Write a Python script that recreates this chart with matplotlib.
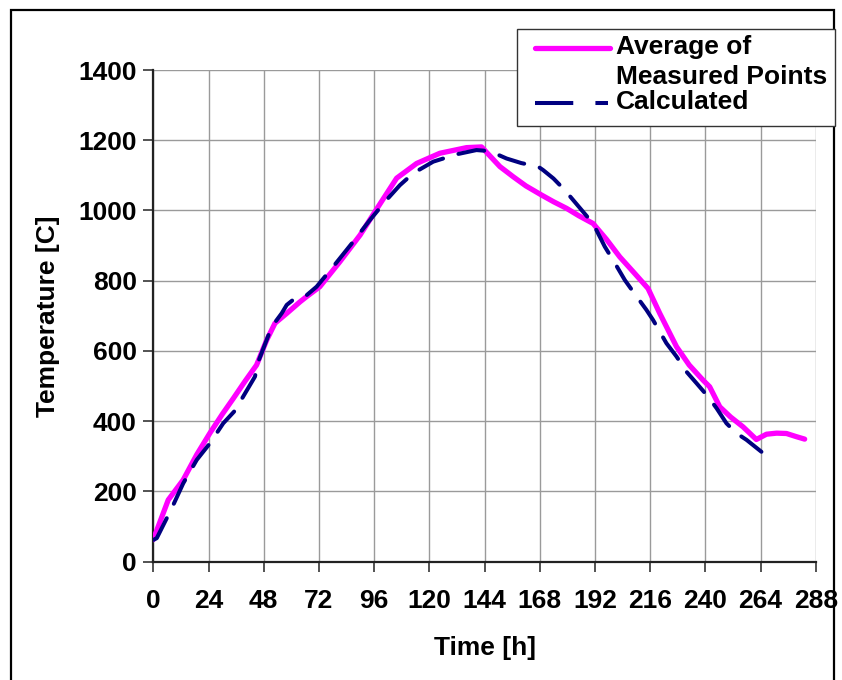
import matplotlib
matplotlib.use("Agg")
import matplotlib.pyplot as plt
from matplotlib.lines import Line2D
from matplotlib.patches import Rectangle

# Average of measured points
measured_t = [0, 6.5, 13, 18.9, 24.6, 30, 34.8, 40, 44.9, 49.3, 52.9, 58, 63.8, 66.7,
              72.4, 81.1, 89.9, 97.8, 105.8, 114.5, 124.6, 136.2, 142.7, 150.7, 156.5,
              162, 168.8, 174, 179.7, 185, 191.2, 197, 202.8, 209, 215.1, 220.2, 227.5,
              233, 239, 241.9, 246.3, 251, 256.4, 262.2, 266.6, 271, 275.3, 279.6, 283.2]
measured_T = [63, 176, 233, 305, 366, 420, 465, 515, 560, 631, 679, 707, 740, 755,
              783, 854, 930, 1011, 1092, 1134, 1163, 1179, 1181, 1125, 1096,
              1070, 1044, 1025, 1006, 985, 963, 918, 868, 823, 778, 707, 612,
              560, 517, 498, 441, 412, 384, 348, 363, 366, 365, 356, 349]

# Calculated temperature
calc_t = [0, 1.5, 8, 13, 18.9, 24.6, 30.4, 35.5, 37.7, 44.2, 45.6, 51.5, 55.8, 58,
          61.6, 66.7, 71, 78.2, 86.9, 94.2, 101.4, 107.2, 113, 121.7, 131.9, 140.5,
          146.3, 153.6, 160, 167.3, 169.5, 174, 178.9, 186.9, 191.2, 196.3, 200.7,
          205, 208.6, 214.4, 217.3, 223.1, 227.5, 231.8, 236.2, 241.2, 244.9, 249.2,
          253.5, 257.9, 264.4]
calc_T = [62, 67, 152, 223, 290, 337, 394, 430, 455, 527, 569, 669, 707, 731,
          750, 759, 783, 840, 911, 973, 1030, 1072, 1106, 1139, 1160, 1172,
          1169, 1148, 1135, 1125, 1115, 1091, 1058, 996, 963, 897, 850,
          802, 769, 717, 688, 622, 584, 541, 508, 470, 437, 394,
          366, 347, 313]

x_ticks = list(range(0, 289, 24))
y_ticks = list(range(0, 1401, 200))

legend_labels = ["Average of", "Measured Points", "Calculated"]

W, H = 842, 680
plt.rcParams["font.family"] = ["Liberation Sans", "DejaVu Sans"]
plt.rcParams["font.weight"] = "bold"

fig = plt.figure(figsize=(W / 100, H / 100), dpi=100)
fig.patch.set_facecolor("white")


def fx(px):
    return px / W


def fy(py):
    return 1 - py / H


ax = fig.add_axes([fx(153.3), fy(561.7), fx(815.7) - fx(153.3), fy(70) - fy(561.7)])

MAGENTA = "#FF00FF"
NAVY = "#000080"
FS = 19

ax.plot(measured_t, measured_T, color=MAGENTA, lw=3.8, solid_capstyle="round",
        solid_joinstyle="round", zorder=3)
ax.plot(calc_t, calc_T, color=NAVY, lw=2.9, linestyle=(0, (6.5, 4.0)),
        dash_capstyle="round", zorder=4)

ax.set_xlim(0, 288)
ax.set_ylim(0, 1400)
ax.set_xticks(x_ticks)
ax.set_yticks(y_ticks)
ax.grid(True, color="#9a9a9a", lw=1.0)
ax.set_axisbelow(True)

for s in ["top", "right"]:
    ax.spines[s].set_visible(False)
for s in ["left", "bottom"]:
    ax.spines[s].set_color("#222222")
    ax.spines[s].set_linewidth(1.6)

ax.tick_params(axis="both", direction="out", length=7, width=1.3, color="#444444",
               labelsize=FS)
ax.tick_params(axis="x", pad=13)
ax.tick_params(axis="y", pad=5)
for lab in ax.get_xticklabels() + ax.get_yticklabels():
    lab.set_fontweight("bold")

ax.set_xlabel("Time [h]", fontsize=FS, fontweight="bold", labelpad=16)
ax.set_ylabel("Temperature [C]", fontsize=FS, fontweight="bold", labelpad=13)

# outer frame
fig.add_artist(Rectangle((fx(11), fy(690)), fx(834) - fx(11), fy(10) - fy(690),
                         transform=fig.transFigure, fill=False, edgecolor="black",
                         lw=1.6, clip_on=False, zorder=10))

# legend box
fig.add_artist(Rectangle((fx(517), fy(126)), fx(835) - fx(517), fy(29) - fy(126),
                         transform=fig.transFigure, facecolor="white",
                         edgecolor="#333333", lw=1.0, zorder=11))
fig.add_artist(Line2D([fx(535), fx(610)], [fy(48), fy(48)], transform=fig.transFigure,
                      color=MAGENTA, lw=3.8, solid_capstyle="round", zorder=12))
fig.add_artist(Line2D([fx(535), fx(608)], [fy(103), fy(103)], transform=fig.transFigure,
                      color=NAVY, lw=2.9, linestyle=(0, (9.5, 5.5)), zorder=12))
for label, py in zip(legend_labels, [47, 77, 102]):
    fig.text(fx(616), fy(py), label, fontsize=FS, fontweight="bold",
             ha="left", va="center", zorder=12)

fig.savefig("out.png", dpi=100, facecolor="white")
